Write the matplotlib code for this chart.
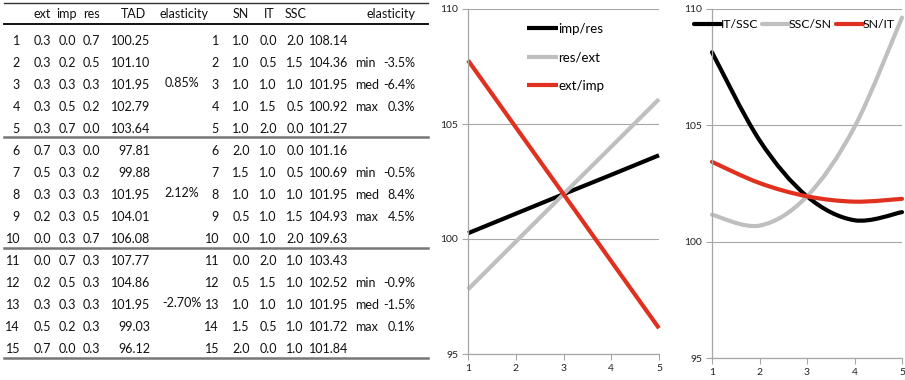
import matplotlib
matplotlib.use("Agg")
import matplotlib.pyplot as plt
from matplotlib.path import Path
from matplotlib.patches import PathPatch
from matplotlib.lines import Line2D

plt.rcParams['font.family'] = ['Lato', 'DejaVu Sans']

# ---------------- data ----------------
row_ids = list(range(1, 16))
ext = [0.3, 0.3, 0.3, 0.3, 0.3, 0.7, 0.5, 0.3, 0.2, 0.0, 0.0, 0.2, 0.3, 0.5, 0.7]
imp = [0.0, 0.2, 0.3, 0.5, 0.7, 0.3, 0.3, 0.3, 0.3, 0.3, 0.7, 0.5, 0.3, 0.2, 0.0]
res = [0.7, 0.5, 0.3, 0.2, 0.0, 0.0, 0.2, 0.3, 0.5, 0.7, 0.3, 0.3, 0.3, 0.3, 0.3]
tad = [100.25, 101.10, 101.95, 102.79, 103.64,
       97.81, 99.88, 101.95, 104.01, 106.08,
       107.77, 104.86, 101.95, 99.03, 96.12]
elasticity_a = ["0.85%", "2.12%", "-2.70%"]

sn = [1.0, 1.0, 1.0, 1.0, 1.0, 2.0, 1.5, 1.0, 0.5, 0.0, 0.0, 0.5, 1.0, 1.5, 2.0]
it = [0.0, 0.5, 1.0, 1.5, 2.0, 1.0, 1.0, 1.0, 1.0, 1.0, 2.0, 1.5, 1.0, 0.5, 0.0]
ssc = [2.0, 1.5, 1.0, 0.5, 0.0, 0.0, 0.5, 1.0, 1.5, 2.0, 1.0, 1.0, 1.0, 1.0, 1.0]
val_b = [108.14, 104.36, 101.95, 100.92, 101.27,
         101.16, 100.69, 101.95, 104.93, 109.63,
         103.43, 102.52, 101.95, 101.72, 101.84]
stat_labels = ["min", "med", "max"]
elasticity_b = [["-3.5%", "-6.4%", "0.3%"],
                ["-0.5%", "8.4%", "4.5%"],
                ["-0.9%", "-1.5%", "0.1%"]]

x_steps = [1, 2, 3, 4, 5]
left_names = ["imp/res", "res/ext", "ext/imp"]
right_names = ["IT/SSC", "SSC/SN", "SN/IT"]
colors = ["#000000", "#BFBFBF", "#E0301E"]

W, H = 905, 380
fig = plt.figure(figsize=(W / 100, H / 100), dpi=100)

# ---------------- table ----------------
bg = fig.add_axes([0, 0, 1, 1])
bg.set_xlim(0, W)
bg.set_ylim(H, 0)
bg.axis("off")

fs = 9.0
tc = "#111111"
hy = 14
row_y = [41 + i * 22 for i in range(15)]

bg.plot([4, 428], [3, 3], color="#333333", lw=1.0)
bg.plot([4, 428], [24, 24], color="#111111", lw=1.4)
for yy in [137, 248, 358]:
    bg.plot([4, 428], [yy, yy], color="#777777", lw=1.8)

def txt(x, y, s, ha):
    bg.text(x, y, s, ha=ha, va="center", fontsize=fs, color=tc)

for s, x in [("ext", 42), ("imp", 67), ("res", 91)]:
    txt(x, hy, s, "center")
txt(133, hy, "TAD", "center")
txt(184, hy, "elasticity", "center")
for s, x in [("SN", 241), ("IT", 269), ("SSC", 296)]:
    txt(x, hy, s, "center")
txt(415, hy, "elasticity", "right")

for i in range(15):
    y = row_y[i]
    txt(20, y, str(row_ids[i]), "right")
    txt(42, y, f"{ext[i]:.1f}", "center")
    txt(67, y, f"{imp[i]:.1f}", "center")
    txt(91, y, f"{res[i]:.1f}", "center")
    txt(150, y, f"{tad[i]:.2f}", "right")
    txt(219, y, str(row_ids[i]), "right")
    txt(241, y, f"{sn[i]:.1f}", "center")
    txt(268, y, f"{it[i]:.1f}", "center")
    txt(295, y, f"{ssc[i]:.1f}", "center")
    txt(348, y, f"{val_b[i]:.2f}", "right")

for b in range(3):
    txt(182, row_y[b * 5 + 2] - 2, elasticity_a[b], "center")
    for k in range(3):
        y = row_y[b * 5 + 1 + k]
        txt(355, y, stat_labels[k], "left")
        txt(415, y, elasticity_b[b][k], "right")

# ---------------- charts ----------------
def style_axes(ax):
    ax.set_xlim(1, 5)
    ax.set_ylim(95, 110)
    ax.set_xticks(x_steps)
    ax.set_yticks([95, 100, 105, 110])
    for sp in ["top", "right"]:
        ax.spines[sp].set_visible(False)
    for sp in ["left", "bottom"]:
        ax.spines[sp].set_color("#A6A6A6")
        ax.spines[sp].set_linewidth(0.9)
    ax.tick_params(axis="both", direction="out", length=4, width=0.8,
                   color="#A6A6A6", labelsize=7.5, labelcolor="#222222", pad=3)
    ax.grid(axis="y", color="#A6A6A6", lw=0.8)
    ax.set_axisbelow(True)

def smooth_patch(ax, xs, ys, color):
    # Excel-style smoothed line: cubic Bezier through data points
    n = len(xs)
    verts = [(xs[0], ys[0])]
    codes = [Path.MOVETO]
    for i in range(n - 1):
        p0 = i - 1 if i > 0 else i
        p3 = i + 2 if i + 2 < n else i + 1
        c1 = (xs[i] + (xs[i + 1] - xs[p0]) / 6, ys[i] + (ys[i + 1] - ys[p0]) / 6)
        c2 = (xs[i + 1] - (xs[p3] - xs[i]) / 6, ys[i + 1] - (ys[p3] - ys[i]) / 6)
        verts += [c1, c2, (xs[i + 1], ys[i + 1])]
        codes += [Path.CURVE4, Path.CURVE4, Path.CURVE4]
    patch = PathPatch(Path(verts, codes), facecolor="none", edgecolor=color,
                      lw=3.0, capstyle="round", joinstyle="round", clip_on=False)
    ax.add_patch(patch)

ax1 = fig.add_axes([468 / W, 1 - 354 / H, (659 - 468) / W, (354 - 9) / H])
style_axes(ax1)
for k in range(3):
    ax1.plot(x_steps, tad[k * 5:(k + 1) * 5], color=colors[k], lw=3.0,
             solid_capstyle="butt", clip_on=False, label=left_names[k])
ax1.legend(loc="upper left", bbox_to_anchor=(0.28, 0.975), frameon=False,
           fontsize=9.5, handlelength=2.4, handletextpad=0.0, labelspacing=1.25,
           borderaxespad=0)

ax2 = fig.add_axes([712 / W, 1 - 358 / H, (902 - 712) / W, (358 - 9) / H])
style_axes(ax2)
handles = []
for k in range(3):
    smooth_patch(ax2, x_steps, val_b[k * 5:(k + 1) * 5], colors[k])
    handles.append(Line2D([], [], color=colors[k], lw=3.0, solid_capstyle="round"))
ax2.legend(handles, right_names, loc="upper left", bbox_to_anchor=(-0.12, 0.985),
           frameon=False, fontsize=8.8, ncol=3, handlelength=2.2, handletextpad=0.0,
           columnspacing=0.3, borderaxespad=0)

fig.savefig("out.png", dpi=100)
